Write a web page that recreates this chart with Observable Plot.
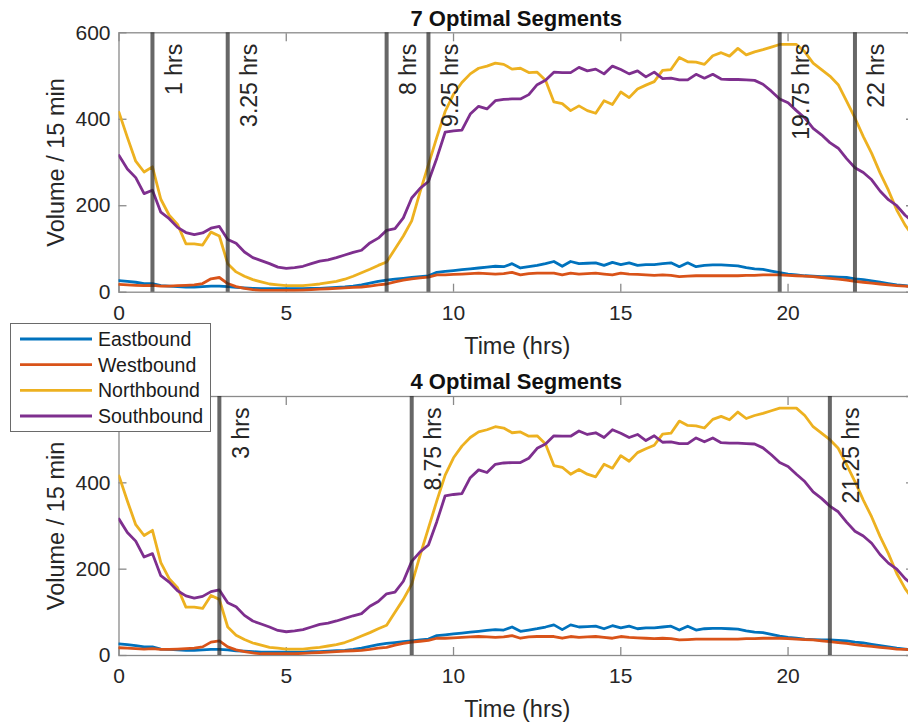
<!DOCTYPE html>
<html>
<head>
<meta charset="utf-8">
<script src="https://cdn.jsdelivr.net/npm/d3@7"></script>
<script src="https://cdn.jsdelivr.net/npm/@observablehq/plot@0.6"></script>
<style>
  html, body { margin: 0; padding: 0; background: #fff; overflow: hidden; }
  #wrap { position: relative; width: 908px; height: 725px; overflow: hidden; font-family: "Liberation Sans", Arial, Helvetica, sans-serif; }
  #wrap svg.plotsvg { display: block; }
  #legend { position: absolute; left: 10px; top: 323px; width: 201px; height: 109px; }
</style>
</head>
<body>
<div id="wrap"></div>
<script>
// ---- data ----
const times = [0,0.25,0.5,0.75,1,1.25,1.5,1.75,2,2.25,2.5,2.75,3,3.25,3.5,3.75,4,4.25,4.5,4.75,5,5.25,5.5,5.75,
  6,6.25,6.5,6.75,7,7.25,7.5,7.75,8,8.25,8.5,8.75,9,9.25,9.5,9.75,10,10.25,10.5,10.75,11,11.25,11.5,11.75,
  12,12.25,12.5,12.75,13,13.25,13.5,13.75,14,14.25,14.5,14.75,15,15.25,15.5,15.75,16,16.25,16.5,16.75,17,17.25,17.5,17.75,
  18,18.25,18.5,18.75,19,19.25,19.5,19.75,20,20.25,20.5,20.75,21,21.25,21.5,21.75,22,22.25,22.5,22.75,23,23.25,23.5,23.75];

const eastbound = [27,25,23,20,20,15,14,13,12,12,13,14,14,13,11,10,9,8,8,8,8,8,8,9,
  9,10,11,12,14,17,21,25,28,30,32,34,36,38,46,48,50,52,54,56,58,60,59,66,
  56,59,62,66,71,60,71,66,67,68,62,69,64,68,62,64,64,66,68,59,68,59,62,63,
  63,62,61,57,54,53,49,45,42,40,38,37,36,36,35,34,31,29,26,23,20,17,15,13];

const westbound = [18,17,16,15,16,14,14,15,16,17,20,31,34,20,13,9,6,4,4,4,4,4,5,6,
  7,8,9,10,11,12,14,17,19,24,28,31,33,35,40,40,41,42,43,44,43,42,43,46,
  40,43,44,44,44,40,44,42,43,44,42,40,44,42,41,40,39,40,39,36,37,38,38,38,
  38,38,38,39,39,40,40,40,39,38,37,36,34,32,30,28,25,23,21,19,17,15,14,13];

const northbound = [416,358,303,278,290,215,178,157,112,112,109,139,130,66,47,37,29,24,19,17,15,15,15,17,
  19,22,25,30,37,45,53,62,70,100,130,165,232,295,358,418,458,485,505,518,523,530,527,516,
  518,508,509,490,440,436,420,431,420,414,443,434,463,450,470,479,487,513,515,543,533,532,527,547,
  554,546,564,549,556,561,567,573,573,573,556,530,515,500,480,442,403,360,321,276,236,190,155,128];

const southbound = [316,285,265,228,236,185,170,150,138,133,137,148,152,122,113,93,80,73,66,58,55,57,60,66,
  72,75,80,86,92,97,114,125,143,147,172,218,240,256,310,370,373,375,412,430,424,443,446,447,
  447,457,480,490,509,508,508,520,512,516,505,523,515,505,512,498,509,494,495,491,491,504,495,504,
  493,492,492,491,490,481,465,447,438,420,403,379,364,346,333,309,288,277,260,234,214,200,178,162];

const seriesNames = ["Eastbound", "Westbound", "Northbound", "Southbound"];
const seriesColors = ["#0072BD", "#D95319", "#EDB120", "#7E2F8E"];
const segments7 = [1, 3.25, 8, 9.25, 19.75, 22];
const segments4 = [3, 8.75, 21.25];
const xTicks = [0, 5, 10, 15, 20];
const yTicks = [0, 200, 400, 600];
const yTickLabelsTop = [0, 200, 400, 600];
const yTickLabelsBottom = [0, 200, 400]; // 600 is hidden behind the legend in the reference
const titles = ["7 Optimal Segments", "4 Optimal Segments"];

// ---- long table ----
const seriesValues = [eastbound, westbound, northbound, southbound];
const rows = [];
seriesNames.forEach((name, k) => {
  times.forEach((t, i) => rows.push({t, v: seriesValues[k][i], dir: name}));
});

const FONT = '"Liberation Sans", Arial, Helvetica, sans-serif';
const AX = "#262626";
const FRAME = "#8a8a8a";

function panel(title, segs, yLabels, height, marginTop, marginBottom) {
  return Plot.plot({
    width: 908,
    height,
    marginLeft: 118.5,
    marginRight: -5,
    marginTop,
    marginBottom,
    className: "plotsvg",
    style: {fontFamily: FONT, fontSize: "21px", color: AX, background: "white", overflow: "hidden"},
    x: {domain: [0, 23.75]},
    y: {domain: [0, 600]},
    color: {domain: seriesNames, range: seriesColors},
    marks: [
      Plot.frame({stroke: FRAME, strokeWidth: 1.3}),
      // inward ticks on all four sides
      Plot.axisX(xTicks, {anchor: "bottom", tickSize: -8, fill: "none", stroke: FRAME, strokeWidth: 1.3}),
      Plot.axisX(xTicks, {anchor: "top", tickSize: -8, fill: "none", stroke: FRAME, strokeWidth: 1.3}),
      Plot.axisY(yTicks, {anchor: "left", tickSize: -8, fill: "none", stroke: FRAME, strokeWidth: 1.3}),
      Plot.axisY(yTicks, {anchor: "right", tickSize: -8, fill: "none", stroke: FRAME, strokeWidth: 1.3}),
      // tick labels
      Plot.axisX(xTicks, {anchor: "bottom", tickSize: 0, tickPadding: 13, label: null, fill: AX, fontSize: 21}),
      Plot.axisY(yLabels, {anchor: "left", tickSize: 0, tickPadding: 8.5, label: null, fill: AX, fontSize: 21}),
      // data
      Plot.line(rows, {x: "t", y: "v", stroke: "dir", z: "dir", strokeWidth: 2.8, clip: true}),
      // segment boundaries
      Plot.ruleX(segs, {stroke: "#262626", strokeOpacity: 0.7, strokeWidth: 4}),
      Plot.text(segs, {x: d => d, text: d => `${d} hrs`, frameAnchor: "top", rotate: -90,
        textAnchor: "end", lineAnchor: "middle", dx: 22, dy: 11, fontSize: 23, fill: AX}),
      // titles and axis labels
      Plot.text([title], {frameAnchor: "top", textAnchor: "middle", lineAnchor: "middle",
        dy: -14.3, fontSize: 22, fontWeight: "bold", fill: "#111"}),
      Plot.text(["Time (hrs)"], {frameAnchor: "bottom", textAnchor: "middle", lineAnchor: "middle",
        dy: 53.8, dx: 1, fontSize: 23.5, fill: AX}),
      Plot.text(["Volume / 15 min"], {frameAnchor: "left", textAnchor: "middle", lineAnchor: "middle",
        rotate: -90, dx: -62.5, fontSize: 23.5, fill: AX})
    ]
  });
}

const wrap = document.getElementById("wrap");
wrap.appendChild(panel(titles[0], segments7, yTickLabelsTop, 362, 32.3, 70.3));
wrap.appendChild(panel(titles[1], segments4, yTickLabelsBottom, 363, 34, 70));

// ---- legend (overlay) ----
const legend = d3.select(wrap).append("div").attr("id", "legend");
const lsvg = legend.append("svg").attr("width", 201).attr("height", 109)
  .style("display", "block").style("font-family", FONT);
lsvg.append("rect").attr("x", 0.5).attr("y", 0.5).attr("width", 200).attr("height", 108)
  .attr("fill", "white").attr("stroke", "#6a6a6a").attr("stroke-width", 1);
const rowY = [16, 41.7, 67.4, 93];
seriesNames.forEach((name, i) => {
  lsvg.append("line").attr("x1", 10).attr("x2", 82).attr("y1", rowY[i]).attr("y2", rowY[i])
    .attr("stroke", seriesColors[i]).attr("stroke-width", 2.8);
  lsvg.append("text").attr("x", 88).attr("y", rowY[i]).attr("dy", "0.36em")
    .attr("font-size", 19.5).attr("fill", "#1a1a1a").text(name);
});
</script>
</body>
</html>
